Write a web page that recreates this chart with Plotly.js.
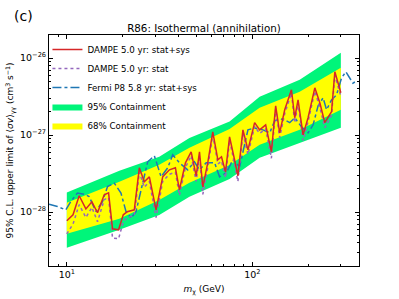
<!DOCTYPE html>
<html>
<head>
<meta charset="utf-8">
<script src="https://cdn.plot.ly/plotly-3.0.1.min.js"></script>
<style>
html,body{margin:0;padding:0;background:#fff;}
#chart{width:399px;height:299px;}
</style>
</head>
<body>
<div id="chart"></div>
<script>
// ---- data ----
const bandMass = [10, 19.2, 31.5, 45.8, 75.4, 109.5, 180, 300];
const band95Upper = [1.80e-28, 3.44e-28, 5.22e-28, 9.2e-28, 1.5e-27, 3.14e-27, 5.22e-27, 1.17e-26];
const band95Lower = [3.44e-29, 5.89e-29, 9.2e-29, 1.58e-28, 2.7e-28, 5.07e-28, 7.94e-28, 1.25e-27];
const band68Upper = [1.32e-28, 2.48e-28, 4.11e-28, 6.84e-28, 1.2e-27, 2.26e-27, 3.65e-27, 7.48e-27];
const band68Lower = [5.22e-29, 8.18e-29, 1.44e-28, 2.40e-28, 4.1e-28, 7.48e-28, 1.17e-27, 2.13e-27];

const dampeMass = [10.0, 10.8, 11.66, 12.67, 13.65, 14.64, 15.91, 16.79, 17.64, 19.01,
  20.15, 21.18, 23.11, 24.60, 26.17, 27.86, 30.28, 32.87, 35.73, 38.49,
  40.46, 43.6, 46.8, 49.8, 51.9, 54.1, 57.5, 61.2, 65.2, 68.2,
  71.7, 75.4, 80.2, 83.6, 89.0, 94.7, 102.9, 109.5, 118.0, 126.7,
  133.6, 140.4, 149.5, 162.5, 169.3, 176.4, 187.7, 199.8, 217.2, 231.1,
  245.9, 267.3, 278.5, 292, 300];
const dampeStatSys = [7.71e-29, 9.23e-29, 1.63e-28, 1.10e-28, 1.36e-28, 9.8e-29, 1.68e-28, 1.78e-28, 6.07e-29, 5.89e-29,
  9.23e-29, 1.01e-28, 1.07e-28, 3.76e-28, 2.48e-28, 2.87e-28, 1.07e-28, 2.87e-28, 3.54e-28, 3.76e-28,
  1.95e-28, 4.37e-28, 6.07e-28, 2.96e-28, 6.07e-28, 2.13e-28, 4.37e-28, 1.10e-27, 4.78e-28, 5.23e-28,
  3.33e-28, 9.5e-28, 4.78e-28, 2.96e-28, 1.17e-27, 6.44e-28, 1.45e-27, 1.17e-27, 1.36e-27, 6.07e-28,
  2.40e-27, 1.07e-27, 2.13e-27, 3.88e-27, 1.68e-27, 2.87e-27, 1.01e-27, 1.68e-27, 4.11e-27, 2.63e-27,
  1.45e-27, 2.01e-27, 6.64e-27, 4.24e-27, 3.54e-27];
const dampeStat = [5.2e-29, 7.0e-29, 1.25e-28, 8.5e-29, 1.15e-28, 7.5e-29, 1.45e-28, 1.55e-28, 4.6e-29, 4.5e-29,
  7.5e-29, 8.5e-29, 9.0e-29, 3.3e-28, 2.1e-28, 2.5e-28, 8.5e-29, 2.5e-28, 3.1e-28, 3.3e-28,
  1.65e-28, 3.8e-28, 5.4e-28, 2.5e-28, 5.4e-28, 1.7e-28, 3.8e-28, 1.0e-27, 4.2e-28, 4.6e-28,
  2.8e-28, 8.6e-28, 4.2e-28, 2.5e-28, 1.05e-27, 5.6e-28, 1.3e-27, 1.05e-27, 1.2e-27, 5.0e-28,
  2.2e-27, 9.3e-28, 1.9e-27, 3.5e-27, 1.45e-27, 2.6e-27, 8.5e-28, 1.5e-27, 3.7e-27, 2.3e-27,
  1.25e-27, 1.8e-27, 6.0e-27, 3.8e-27, 3.2e-27];

const fermiMass = [8.02, 8.90, 9.88, 10.51, 11.41, 12.40, 13.20, 14.35, 15.57, 16.58,
  18.02, 19.58, 20.84, 22.18, 23.60, 25.63, 27.28, 29.65, 32.22, 34.99,
  37.22, 40.46, 44.86, 48.76, 51.9, 56.4, 62.6, 66.6, 72.4, 78.6,
  85.4, 94.7, 102.9, 114.1, 124.1, 132.0, 140.4, 149.5, 159.1, 169.3,
  184.0, 199.8, 212.6, 226.2, 240.8, 251.2, 267.3, 284.5, 302.8, 319.4,
  333.6, 348.5, 366.3];
const fermiStatSys = [1.27e-28, 1.18e-28, 1.07e-28, 1.37e-28, 1.77e-28, 1.71e-28, 1.59e-28, 1.02e-28, 1.37e-28, 2.15e-28,
  2.38e-28, 1.77e-28, 1.02e-28, 8.36e-29, 1.01e-28, 2.26e-28, 4.50e-28, 5.38e-28, 2.87e-28, 3.76e-28,
  5.55e-28, 4.37e-28, 3.54e-28, 4.50e-28, 3.54e-28, 4.37e-28, 4.37e-28, 2.87e-28, 3.24e-28, 4.78e-28,
  3.88e-28, 1.17e-27, 1.24e-27, 1.17e-27, 1.07e-27, 1.53e-27, 1.63e-27, 1.58e-27, 1.45e-27, 1.68e-27,
  1.28e-27, 1.07e-27, 1.36e-27, 2.40e-27, 3.05e-27, 2.13e-27, 2.87e-27, 3.34e-27, 5.55e-27, 6.64e-27,
  5.55e-27, 4.73e-27, 5.07e-27];

const seriesNames = ["DAMPE 5.0 yr: stat+sys", "DAMPE 5.0 yr: stat", "Fermi P8 5.8 yr: stat+sys", "95% Containment", "68% Containment"];
const xTickVals = [10, 100];
const xTickText = ["10<sup>1</sup>", "10<sup>2</sup>"];
const yTickVals = [1e-28, 1e-27, 1e-26];
const yTickText = ["10<sup>−28</sup>", "10<sup>−27</sup>", "10<sup>−26</sup>"];

// ---- helpers ----
function polygon(x, up, lo) {
  return {x: x.concat(x.slice().reverse()), y: up.concat(lo.slice().reverse())};
}
const p95 = polygon(bandMass, band95Upper, band95Lower);
const p68 = polygon(bandMass, band68Upper, band68Lower);

const xMinor = [];
[1, 10, 100].forEach(d => { for (let k = 2; k <= 9; k++) xMinor.push(k * d); });
const yMinor = [];
[1e-29, 1e-28, 1e-27, 1e-26].forEach(d => { for (let k = 2; k <= 9; k++) yMinor.push(k * d); });

const font = '"DejaVu Sans", sans-serif';

const traces = [
  {x: p95.x, y: p95.y, type: 'scatter', mode: 'lines', fill: 'toself',
   fillcolor: '#00f57a', line: {width: 0, color: '#00f57a'}, name: seriesNames[3], legendrank: 4, hoverinfo: 'skip'},
  {x: p68.x, y: p68.y, type: 'scatter', mode: 'lines', fill: 'toself',
   fillcolor: '#ffff00', line: {width: 0, color: '#ffff00'}, name: seriesNames[4], legendrank: 5, hoverinfo: 'skip'},
  {x: fermiMass, y: fermiStatSys, type: 'scatter', mode: 'lines', name: seriesNames[2], legendrank: 3,
   line: {color: '#1f77b4', width: 1.5, dash: 'dashdot'}},
  {x: dampeMass, y: dampeStat, type: 'scatter', mode: 'lines', name: seriesNames[1], legendrank: 2,
   line: {color: '#9467bd', width: 1.5, dash: 'dot'}},
  {x: dampeMass, y: dampeStatSys, type: 'scatter', mode: 'lines', name: seriesNames[0], legendrank: 1,
   line: {color: '#d62728', width: 1.5}}
];

const axisCommon = {
  type: 'log', showgrid: false, zeroline: false, showline: true, linecolor: '#000', linewidth: 1,
  mirror: 'allticks', ticks: 'inside', ticklen: 4, tickcolor: '#000', tickmode: 'array',
  tickfont: {family: font, size: 9.5, color: '#000'}
};

const layout = {
  width: 399, height: 299,
  margin: {l: 49, r: 40, t: 35, b: 33},
  paper_bgcolor: '#fff', plot_bgcolor: '#fff',
  font: {family: font, color: '#000'},
  showlegend: true,
  title: {text: 'R86: Isothermal (annihilation)', font: {family: font, size: 10.3, color: '#000'},
          x: 0.5, xref: 'paper', xanchor: 'center', y: 0.905, yref: 'container', yanchor: 'middle'},
  xaxis: Object.assign({}, axisCommon, {
    range: [0.904, 2.575], tickvals: xTickVals, ticktext: xTickText,
    minor: {tickmode: 'array', tickvals: xMinor, ticks: 'inside', ticklen: 2, tickcolor: '#000'},
    title: {text: '<i>m</i><sub>χ</sub> (GeV)', font: {family: font, size: 9, color: '#000'}, standoff: 6}
  }),
  yaxis: Object.assign({}, axisCommon, {
    range: [-28.70, -25.70], tickvals: yTickVals, ticktext: yTickText,
    minor: {tickmode: 'array', tickvals: yMinor, ticks: 'inside', ticklen: 2, tickcolor: '#000'},
    title: {text: '95% C.L. upper limit of ⟨<i>σv</i>⟩<sub>γγ</sub> (cm<sup>3</sup> s<sup>−1</sup>)',
            font: {family: font, size: 9, color: '#000'}, standoff: 4}
  }),
  legend: {x: -0.005, y: 1.0, xanchor: 'left', yanchor: 'top', bgcolor: 'rgba(0,0,0,0)',
           font: {family: font, size: 8.7, color: '#000'}, itemwidth: 30, tracegroupgap: 0},
  annotations: [
    {text: '(c)', xref: 'paper', yref: 'paper', x: -0.12, y: 1.082, xanchor: 'left', yanchor: 'middle',
     showarrow: false, font: {family: font, size: 14, color: '#000'}}
  ]
};

Plotly.newPlot('chart', traces, layout, {staticPlot: true, displayModeBar: false});
</script>
</body>
</html>
